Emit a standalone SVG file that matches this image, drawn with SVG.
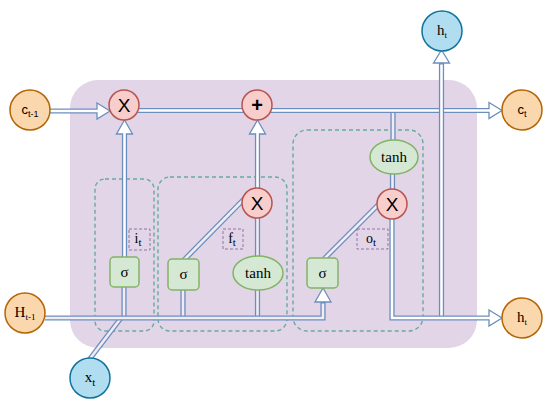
<svg xmlns="http://www.w3.org/2000/svg" width="550" height="404" viewBox="0 0 550 404">
<style>
.o{fill:none;stroke:#6c8ebf;stroke-width:5.2}
.g{fill:none;stroke:#fff;stroke-width:2.6}
.gl{fill:none;stroke:#f1ecf3;stroke-width:2.6}
.h{fill:#fff;stroke:#6c8ebf;stroke-width:1.3;stroke-linejoin:miter}
.or{fill:#fad7ac;stroke:#b46504;stroke-width:1.5}
.bl{fill:#b1ddf0;stroke:#10739e;stroke-width:1.5}
.pk{fill:#f8cecc;stroke:#b85450;stroke-width:1.5}
.gr{fill:#d5e8d4;stroke:#82b366;stroke-width:1.5}
.dash{fill:none;stroke:#67ab9f;stroke-width:1.4;stroke-dasharray:4 3}
.lab{fill:none;stroke:#9673a6;stroke-width:1;stroke-dasharray:3 2}
text{font-family:"Liberation Serif","Times New Roman",serif;fill:#000;text-anchor:middle}
.s{font-family:"Liberation Sans",Arial,sans-serif}
</style>
<rect id="container" x="70" y="80" width="407" height="268" rx="28" fill="#e1d5e7"/>
<g id="gates">
<rect id="gate-i" class="dash" x="95" y="179" width="59" height="152" rx="10"/>
<rect id="gate-f" class="dash" x="158" y="177" width="129" height="154" rx="12"/>
<rect id="gate-o" class="dash" x="293" y="130" width="130" height="201" rx="14"/>
</g>
<g id="connectors">
<!-- links -->
<path class="o" d="M393,110 V141"/><path class="gl" d="M393,110 V141"/>
<path class="o" d="M392.5,174 V190"/><path class="gl" d="M392.5,174 V190"/>
<path class="o" d="M257.5,217 V257"/><path class="gl" d="M257.5,217 V257"/>
<path class="o" d="M184,260 L247,196"/><path class="gl" d="M184,260 L247,196"/>
<path class="o" d="M324,259 L382,201"/><path class="gl" d="M324,259 L382,201"/>
<path class="o" d="M124,286 V318"/><path class="gl" d="M124,286 V318"/>
<path class="o" d="M183,289 V318"/><path class="gl" d="M183,289 V318"/>
<path class="o" d="M257.5,289 V318"/><path class="gl" d="M257.5,289 V318"/>
<path class="o" d="M89,360 L121,318"/><path class="gl" d="M89,360 L121,318"/>
<!-- c(t-1) to X -->
<path class="o" d="M50,111 H97"/><polygon class="h" points="97,103 110,111 97,119"/><path class="g" d="M50,111 H98.5"/>
<!-- X to + -->
<path class="o" d="M137,110.5 H244"/><path class="g" d="M137,110.5 H244"/>
<!-- + to c(t) -->
<path class="o" d="M270,110.5 H489"/><polygon class="h" points="489,102.5 502,110.5 489,118.5"/><path class="g" d="M270,110.5 H490.5"/>
<!-- sigma i to X -->
<path class="o" d="M124.5,257 V134"/><polygon class="h" points="116.5,134 124.5,120 132.5,134"/><path class="g" d="M124.5,257 V132.5"/>
<!-- X f to + -->
<path class="o" d="M257.5,189 V134"/><polygon class="h" points="249.5,134 257.5,120 265.5,134"/><path class="g" d="M257.5,189 V132.5"/>
<!-- h vertical -->
<path class="o" d="M441.5,317 V63"/><polygon class="h" points="433.5,63 441.5,50 449.5,63"/><path class="g" d="M441.5,317 V64.5"/>
<!-- bottom line to sigma o -->
<path class="o" d="M45,318 H323 V302"/><polygon class="h" points="315,302 323,288 331,302"/><path class="gl" d="M45,318 H323 V303.5"/>
<!-- X o to h right -->
<path class="o" d="M392,218 V318 H489"/><polygon class="h" points="489,310 502,318 489,326"/><path class="g" d="M392,218 V318 H490.5"/>
</g>
<g id="node-ct1"><circle class="or" cx="30" cy="110" r="20"/><text class="s" x="30" y="114" font-size="13">c<tspan font-size="9" dy="3">t-1</tspan></text></g>
<g id="node-Ht1"><circle class="or" cx="25" cy="313" r="20"/><text x="25" y="317" font-size="15">H<tspan font-size="9" dy="3">t-1</tspan></text></g>
<g id="node-ct"><circle class="or" cx="522" cy="110" r="20"/><text class="s" x="522" y="114" font-size="13">c<tspan font-size="9" dy="3">t</tspan></text></g>
<g id="node-ht-right"><circle class="or" cx="522" cy="318" r="20"/><text x="522" y="322" font-size="15">h<tspan font-size="9" dy="3">t</tspan></text></g>
<g id="node-ht-top"><circle class="bl" cx="442" cy="31" r="20"/><text x="442" y="35" font-size="15">h<tspan font-size="9" dy="3">t</tspan></text></g>
<g id="node-xt"><circle class="bl" cx="90" cy="378" r="20"/><text x="90" y="382" font-size="15">x<tspan font-size="11" dy="4">t</tspan></text></g>
<g id="node-mul-c"><circle class="pk" cx="124" cy="105" r="15"/><text class="s" x="124" y="112" font-size="19">X</text></g>
<g id="node-add"><circle class="pk" cx="257" cy="105" r="15"/><text class="s" x="257" y="112" font-size="20" font-weight="bold">+</text></g>
<g id="node-mul-f"><circle class="pk" cx="257" cy="203" r="15"/><text class="s" x="257" y="210" font-size="19">X</text></g>
<g id="node-mul-o"><circle class="pk" cx="392" cy="204" r="15"/><text class="s" x="392" y="211" font-size="19">X</text></g>
<g id="node-sig-i"><rect class="gr" x="110" y="257" width="29" height="30" rx="4"/><text x="124.5" y="277" font-size="15">σ</text></g>
<g id="node-sig-f"><rect class="gr" x="168" y="259" width="31" height="31" rx="4"/><text x="183.5" y="279" font-size="15">σ</text></g>
<g id="node-sig-o"><rect class="gr" x="307" y="258" width="31" height="30" rx="4"/><text x="322.5" y="278" font-size="15">σ</text></g>
<g id="node-tanh-f"><ellipse class="gr" cx="258" cy="273" rx="25" ry="17"/><text x="258" y="278" font-size="15">tanh</text></g>
<g id="node-tanh-o"><ellipse class="gr" cx="394" cy="157" rx="24" ry="17"/><text x="394" y="162" font-size="15">tanh</text></g>
<g id="label-it"><rect class="lab" x="129" y="229" width="21" height="21"/><text x="138" y="243" font-size="14">i<tspan font-size="11" dy="3">t</tspan></text></g>
<g id="label-ft"><rect class="lab" x="223" y="229" width="20" height="20"/><text x="232" y="243" font-size="14">f<tspan font-size="11" dy="3">t</tspan></text></g>
<g id="label-ot"><rect class="lab" x="357" y="229" width="31" height="20"/><text x="371" y="243" font-size="14">o<tspan font-size="11" dy="3">t</tspan></text></g>
</svg>
